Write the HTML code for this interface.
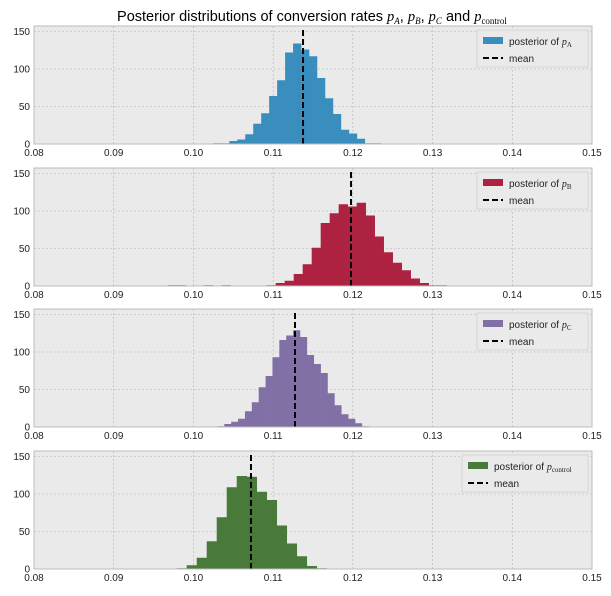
<!DOCTYPE html>
<html><head><meta charset="utf-8"><style>
body{margin:0;background:#fff;font-family:"Liberation Sans",sans-serif;}
svg text{font-family:"Liberation Sans",sans-serif;}
</style></head><body>
<svg id="chart" width="611" height="591" xmlns="http://www.w3.org/2000/svg">
<text x="312" y="21" text-anchor="middle" font-size="14.5">Posterior distributions of conversion rates <tspan font-family="Liberation Serif" font-style="italic">p</tspan><tspan font-size="9" font-family="Liberation Serif" font-style="italic" dy="3">A</tspan><tspan dy="-3">, </tspan><tspan font-family="Liberation Serif" font-style="italic">p</tspan><tspan font-size="9" font-family="Liberation Serif" font-style="italic" dy="3">B</tspan><tspan dy="-3">, </tspan><tspan font-family="Liberation Serif" font-style="italic">p</tspan><tspan font-size="9" font-family="Liberation Serif" font-style="italic" dy="3">C</tspan><tspan dy="-3"> and </tspan><tspan font-family="Liberation Serif" font-style="italic">p</tspan><tspan font-size="9" font-family="Liberation Serif" dy="3">control</tspan></text>
</svg>
<script>
const xTicks = [0.08,0.09,0.10,0.11,0.12,0.13,0.14,0.15];
const yTicks = [0,50,100,150];
const labels = ['A','B','C','control'];
const colors = ['#3a8ebe','#ad2240','#8070a6','#4a7a3a'];
const startA = 0.1025, widthA = 0.001;
const countsA = [1,1,4,6,13,27,41,64,85,122,134,126,117,88,61,40,19,14,7,1,1];
const meanA = 0.11375;
const startB = 0.09677, widthB = 0.001129;
const countsB = [1,1,0,0,1,0,1,0,0,0,0,1,4,7,16,29,51,84,97,109,106,111,94,66,45,31,21,10,4,1,1];
const meanB = 0.11977;
const startC = 0.10301, widthC = 0.000863;
const countsC = [1,4,7,11,21,33,53,68,93,116,122,129,120,96,84,72,45,29,17,11,5,1];
const meanC = 0.11274;
const startD = 0.0979, widthD = 0.001255;
const countsD = [1,5,15,37,69,109,124,123,103,92,58,34,17,4,1];
const meanD = 0.10722;

const panels = [
 {top:26,bottom:144,start:startA,w:widthA,counts:countsA,mean:meanA},
 {top:168,bottom:286,start:startB,w:widthB,counts:countsB,mean:meanB},
 {top:309,bottom:427,start:startC,w:widthC,counts:countsC,mean:meanC},
 {top:451,bottom:569,start:startD,w:widthD,counts:countsD,mean:meanD}
];
const NS='http://www.w3.org/2000/svg';
const svg=document.getElementById('chart');
const L=34,R=592;
function xs(v){return L+(v-0.08)/(0.07)*(R-L);}
function mk(tag,attrs,parent){const e=document.createElementNS(NS,tag);for(const k in attrs)e.setAttribute(k,attrs[k]);(parent||svg).appendChild(e);return e;}
panels.forEach((p,i)=>{
  const ys=v=>p.bottom-v*0.75;
  const g=mk('g',{});
  
  
  const bg=mk('rect',{x:L,y:p.top,width:R-L,height:p.bottom-p.top,fill:'#eaeaea'},g);
  
  
  xTicks.forEach(t=>{
    const x=xs(t);
    mk('line',{x1:x,x2:x,y1:p.top,y2:p.bottom,stroke:'#b2b2b2','stroke-width':0.6,'stroke-dasharray':'2,2'},g);
    const tx=mk('text',{x:x,y:p.bottom+12,'text-anchor':'middle','font-size':10,fill:'#222'},g);
    tx.textContent=t.toFixed(2);
    
    
  });
  yTicks.forEach(t=>{
    const y=ys(t);
    mk('line',{x1:L,x2:R,y1:y,y2:y,stroke:'#b2b2b2','stroke-width':0.6,'stroke-dasharray':'2,2'},g);
    const tx=mk('text',{x:L-4,y:y+3.5,'text-anchor':'end','font-size':10,fill:'#222'},g);
    tx.textContent=t;
    
    
  });
  p.counts.forEach((c,j)=>{
    if(c<=0)return;
    const x0=xs(p.start+j*p.w),x1=xs(p.start+(j+1)*p.w);
    const r=mk('rect',{x:x0,y:ys(c),width:x1-x0+0.3,height:c*0.75,fill:colors[i]},g);
    
    
  });
  const mx=xs(p.mean);
  const ml=mk('line',{x1:mx,x2:mx,y1:p.top+4,y2:p.bottom,stroke:'#000','stroke-width':2,'stroke-dasharray':'6,3'},g);
  
  
  mk('rect',{x:L,y:p.top,width:R-L,height:p.bottom-p.top,fill:'none',stroke:'#bcbcbc','stroke-width':1},g);
  const lw=i===3?126:111, lx=588-lw;
  const lg=mk('g',{},g);
  
  
  mk('rect',{x:lx,y:p.top+4,width:lw,height:37,fill:'#eaeaea','fill-opacity':0.85,stroke:'#d0d0d0','stroke-width':0.8},lg);
  mk('rect',{x:lx+6,y:p.top+11,width:20,height:7,fill:colors[i]},lg);
  const t1=mk('text',{x:lx+32,y:p.top+19,'font-size':10,fill:'#222'},lg);
  t1.innerHTML='posterior of <tspan font-family="Liberation Serif" font-style="italic">p</tspan><tspan font-size="7" font-family="Liberation Serif" dy="2">'+labels[i]+'</tspan>';
  mk('line',{x1:lx+6,x2:lx+26,y1:p.top+32,y2:p.top+32,stroke:'#000','stroke-width':2,'stroke-dasharray':'6,3'},lg);
  const t2=mk('text',{x:lx+32,y:p.top+36,'font-size':10,fill:'#222'},lg);
  t2.textContent='mean';
});
</script>
</body></html>
